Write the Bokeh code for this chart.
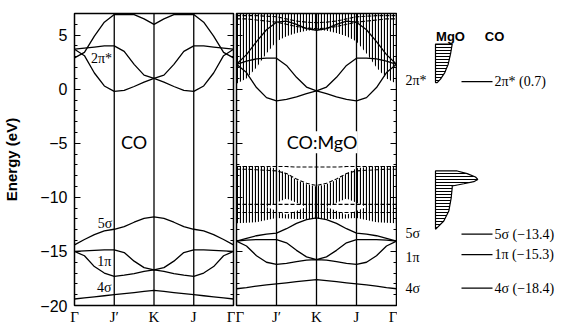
from bokeh.plotting import figure
from bokeh.layouts import row
from bokeh.models import Range1d, FixedTicker, LinearAxis, Span, Label
from bokeh.embed import file_html
from bokeh.resources import INLINE

# ---------------- data ----------------
k_path = [0.0, 0.25, 0.5, 0.75, 1.0, 1.25, 1.5, 1.75, 2.0,
          2.25, 2.5, 2.75, 3.0, 3.25, 3.5, 3.75, 4.0]
k_ticks = [0, 1, 2, 3, 4]
k_tick_labels = ["Γ", "J′", "K", "J", "Γ"]
e_ticks = [-20, -15, -10, -5, 0, 5]
e_tick_labels = ["−20", "−15", "−10", "−5", "0", "5"]
e_minor_ticks = list(range(-20, 8))

# CO monolayer bands (left panel)
co_2pi_1 = [2.9, 3.4, 4.9, 6.2, 6.9, 6.9, 6.9, 6.5, 6.0, 6.5, 6.9, 6.9, 6.9, 6.2, 4.9, 3.4, 2.9]
co_2pi_2 = [3.7, 3.8, 3.9, 4.0, 4.0, 3.5, 2.3, 1.3, 1.0, 1.3, 2.3, 3.5, 4.0, 4.0, 3.9, 3.8, 3.7]
co_2pi_3 = [3.7, 3.1, 1.5, 0.3, -0.2, -0.1, 0.25, 0.65, 1.0, 0.65, 0.25, -0.1, -0.2, 0.3, 1.5, 3.1, 3.7]
co_5s = [-14.4, -13.9, -13.45, -13.1, -12.95, -12.7, -12.3, -11.95, -11.8,
         -11.95, -12.3, -12.7, -12.95, -13.1, -13.45, -13.9, -14.4]
co_1pi_1 = [-15.0, -14.95, -14.9, -14.85, -14.85, -15.1, -15.9, -16.5, -16.7,
            -16.5, -15.9, -15.1, -14.85, -14.85, -14.9, -14.95, -15.0]
co_1pi_2 = [-15.0, -15.4, -16.4, -17.0, -17.3, -17.2, -17.05, -16.85, -16.7,
            -16.85, -17.05, -17.2, -17.3, -17.0, -16.4, -15.4, -15.0]
co_4s = [-19.4, -19.3, -19.2, -19.1, -19.0, -18.9, -18.8, -18.7, -18.6,
         -18.7, -18.8, -18.9, -19.0, -19.1, -19.2, -19.3, -19.4]

# CO:MgO bands (right panel)
cm_2pi_1 = [2.3, 3.2, 4.4, 5.5, 6.2, 6.3, 6.0, 5.6, 5.45, 5.6, 6.0, 6.3, 6.2, 5.5, 4.4, 3.2, 2.3]
cm_2pi_2 = [2.3, 2.6, 2.8, 2.87, 2.87, 2.2, 1.1, 0.2, -0.16, 0.2, 1.1, 2.2, 2.87, 2.87, 2.8, 2.6, 2.3]
cm_2pi_3 = [2.3, 1.54, 0.15, -0.78, -1.08, -0.95, -0.7, -0.4, -0.16,
            -0.4, -0.7, -0.95, -1.08, -0.78, 0.15, 1.54, 2.3]
cm_5s = [-14.05, -13.8, -13.55, -13.4, -13.3, -12.9, -12.4, -12.05, -11.9,
         -12.05, -12.4, -12.9, -13.3, -13.4, -13.55, -13.8, -14.05]
cm_1pi_1 = [-14.05, -13.95, -13.9, -13.9, -13.9, -14.2, -14.9, -15.5, -15.75,
            -15.5, -14.9, -14.2, -13.9, -13.9, -13.9, -13.95, -14.05]
cm_1pi_2 = [-14.05, -14.5, -15.4, -16.0, -16.2, -16.1, -15.95, -15.8, -15.75,
            -15.8, -15.95, -16.1, -16.2, -16.0, -15.4, -14.5, -14.05]
cm_4s = [-18.45, -18.35, -18.2, -18.1, -18.0, -17.9, -17.8, -17.7, -17.6,
         -17.7, -17.8, -17.9, -18.0, -18.1, -18.2, -18.35, -18.45]

# MgO band regions (hatched) in the right panel
mgo_cb_low = [0.5, 1.0, 2.0, 3.3, 4.4, 4.9, 5.2, 5.4, 5.5, 5.4, 5.2, 4.9, 4.4, 3.3, 2.0, 1.0, 0.5]
mgo_cb_high = [7.0, 7.0, 7.0, 7.0, 7.0, 7.0, 7.0, 7.0, 7.0, 7.0, 7.0, 7.0, 7.0, 7.0, 7.0, 7.0, 7.0]
mgo_vb_high = [-7.1, -7.1, -7.1, -7.2, -7.3, -7.8, -8.4, -8.8, -9.0,
               -8.8, -8.4, -7.8, -7.3, -7.2, -7.1, -7.1, -7.1]
mgo_vb_low = [-12.4, -12.35, -12.3, -12.1, -11.9, -11.95, -12.0, -12.0, -12.0,
              -12.0, -12.0, -11.95, -11.9, -12.1, -12.3, -12.35, -12.4]
# MgO bands drawn dashed
mgo_cb_d1 = [6.5, 6.5, 6.4, 6.3, 6.2, 6.0, 5.8, 5.65, 5.6, 5.65, 5.8, 6.0, 6.2, 6.3, 6.4, 6.5, 6.5]
mgo_cb_d2 = [6.8, 6.8, 6.8, 6.75, 6.7, 6.5, 6.3, 6.2, 6.15, 6.2, 6.3, 6.5, 6.7, 6.75, 6.8, 6.8, 6.8]
mgo_vb_d1 = [-7.15, -7.15, -7.15, -7.15, -7.15, -7.15, -7.2, -7.2, -7.2,
             -7.2, -7.2, -7.15, -7.15, -7.15, -7.15, -7.15, -7.15]
mgo_vb_d2 = [-7.4, -7.4, -7.45, -7.5, -7.55, -7.8, -8.3, -8.7, -8.9,
             -8.7, -8.3, -7.8, -7.55, -7.5, -7.45, -7.4, -7.4]
mgo_vb_d3 = [-10.65, -10.65, -10.65, -10.65, -10.65, -10.65, -10.65, -10.65, -10.65,
             -10.65, -10.65, -10.65, -10.65, -10.65, -10.65, -10.65, -10.65]
mgo_vb_d4 = [-11.4, -11.4, -11.4, -11.4, -11.4, -11.4, -11.4, -11.4, -11.4,
             -11.4, -11.4, -11.4, -11.4, -11.4, -11.4, -11.4, -11.4]
# gaps (unhatched pockets) inside the MgO valence region
gap1_k = [0.75, 1.25, 1.75]
gap2_k = [2.25, 2.75, 3.25]
gap_low = [-10.9, -11.6, -10.9]
gap_high = [-10.9, -10.1, -10.9]

# MgO density of states (right diagram): energy, width
dos_cb_e = [0.61, 0.93, 1.54, 2.31, 3.24, 4.17]
dos_cb_w = [1.7, 5.0, 9.3, 12.7, 15.0, 16.7]
dos_vb_e = [-12.96, -12.19, -11.27, -10.04, -9.11, -8.95, -8.74, -8.55, -8.34, -8.12, -7.81, -7.56]
dos_vb_w = [0.0, 8.3, 13.3, 15.7, 16.7, 16.7, 28.3, 38.3, 42.3, 40.0, 31.7, 21.7]

# free CO molecular levels
co_level_names = ["2π*", "5σ", "1π", "4σ"]
co_level_values = [0.7, -13.4, -15.3, -18.4]
mgo_side_label_e = [0.85, -13.3, -15.6, -18.4]

SANS = "Liberation Sans"
SERIF = "Liberation Serif"
TITLE = "Lato"

H = 327
TOP = 13
BOTTOM = 22


def make_panel(width, left_b, right_b, labelled):
    p = figure(width=width, height=H, x_range=Range1d(0, 4), y_range=Range1d(-20, 7),
               output_backend="svg", toolbar_location=None,
               min_border_left=left_b, min_border_right=right_b,
               min_border_top=TOP, min_border_bottom=BOTTOM)
    p.grid.visible = False
    p.outline_line_color = "black"
    p.outline_line_width = 1.5
    p.background_fill_color = "white"
    p.border_fill_color = "white"
    xa = p.xaxis[0]
    xa.ticker = FixedTicker(ticks=k_ticks)
    xa.major_label_overrides = {t: l for t, l in zip(k_ticks, k_tick_labels)}
    xa.major_tick_in = 0
    xa.major_tick_out = 0
    xa.minor_tick_in = 0
    xa.minor_tick_out = 0
    xa.axis_line_color = None
    xa.major_label_standoff = 3
    xa.major_label_text_font = SERIF
    xa.major_label_text_font_size = "15px"
    xa.major_label_text_color = "black"
    ya = p.yaxis[0]
    ya.ticker = FixedTicker(ticks=e_ticks, minor_ticks=e_minor_ticks)
    ya.major_tick_in = 6
    ya.major_tick_out = 0
    ya.minor_tick_in = 3
    ya.minor_tick_out = 0
    ya.axis_line_color = None
    if labelled:
        ya.major_label_overrides = {t: l for t, l in zip(e_ticks, e_tick_labels)}
        ya.major_label_standoff = 7
        ya.major_label_text_font = SANS
        ya.major_label_text_font_size = "16px"
        ya.major_label_text_color = "black"
        ya.axis_label = "Energy (eV)"
        ya.axis_label_text_font = SANS
        ya.axis_label_text_font_size = "15px"
        ya.axis_label_text_font_style = "bold"
        ya.axis_label_standoff = 17
        ya.axis_label_text_color = "black"
    else:
        ya.major_label_overrides = {t: "" for t in e_ticks}
        ya.major_label_standoff = 0
    ra = LinearAxis(ticker=FixedTicker(ticks=e_ticks, minor_ticks=e_minor_ticks),
                    major_tick_in=6, major_tick_out=0, minor_tick_in=3, minor_tick_out=0,
                    axis_line_color=None, major_label_standoff=0,
                    major_label_overrides={t: "" for t in e_ticks})
    p.add_layout(ra, "right")
    for kt in k_ticks[1:-1]:
        p.add_layout(Span(location=kt, dimension="height", line_color="black", line_width=1.3))
    return p


# ---------------- left panel: CO ----------------
p1 = make_panel(235, 74, 2, True)
for band in [co_2pi_1, co_2pi_2, co_2pi_3, co_5s, co_1pi_1, co_1pi_2, co_4s]:
    p1.line(k_path, band, line_color="black", line_width=1.3)
for txt, kx, ey in [("2π*", 0.68, 2.8), ("5σ", 0.77, -12.4), ("1π", 0.75, -15.9), ("4σ", 0.75, -18.3)]:
    p1.add_layout(Label(x=kx, y=ey, text=txt, text_align="center", text_baseline="middle",
                        text_font=SERIF, text_font_size="14px", text_color="black"))
p1.add_layout(Label(x=1.5, y=-4.9, text="CO", text_align="center", text_baseline="middle",
                    text_font=TITLE, text_font_size="18px", text_color="black"))

# ---------------- right panel: CO:MgO ----------------
p2 = make_panel(162, 1, 1, False)
p2.varea(x=k_path, y1=mgo_cb_low, y2=mgo_cb_high, fill_color=None,
         hatch_pattern="vertical_line", hatch_scale=3, hatch_weight=1.2, hatch_color="black")
p2.varea(x=k_path, y1=mgo_vb_low, y2=mgo_vb_high, fill_color=None,
         hatch_pattern="vertical_line", hatch_scale=3, hatch_weight=1.2, hatch_color="black")
p2.varea(x=gap1_k, y1=gap_low, y2=gap_high, fill_color="white")
p2.varea(x=gap2_k, y1=gap_low, y2=gap_high, fill_color="white")
for band in [mgo_cb_d1, mgo_cb_d2, mgo_vb_d1, mgo_vb_d2, mgo_vb_d3, mgo_vb_d4]:
    p2.line(k_path, band, line_color="black", line_width=1.1, line_dash="4 2")
for band in [cm_2pi_1, cm_2pi_2, cm_2pi_3, cm_5s, cm_1pi_1, cm_1pi_2, cm_4s]:
    p2.line(k_path, band, line_color="black", line_width=1.3)
p2.add_layout(Label(x=2.14, y=-4.9, text="CO:MgO", text_align="center", text_baseline="middle",
                    text_font=TITLE, text_font_size="18px", text_color="black",
                    background_fill_color="white"))

# ---------------- level diagram ----------------
p3 = figure(width=165, height=H, x_range=Range1d(0, 165), y_range=Range1d(-20, 7),
            output_backend="svg", toolbar_location=None,
            x_axis_location=None, y_axis_location=None,
            min_border_left=0, min_border_right=0,
            min_border_top=TOP, min_border_bottom=BOTTOM)
p3.grid.visible = False
p3.outline_line_color = None

DOS_X0 = 38
cb_x = [DOS_X0] + [DOS_X0 + w for w in dos_cb_w] + [DOS_X0]
cb_y = [dos_cb_e[0]] + dos_cb_e + [dos_cb_e[-1]]
vb_x = [DOS_X0] + [DOS_X0 + w for w in dos_vb_w] + [DOS_X0]
vb_y = [dos_vb_e[0]] + dos_vb_e + [dos_vb_e[-1]]
for xs, ys in [(cb_x, cb_y), (vb_x, vb_y)]:
    p3.patch(xs, ys, fill_color=None, line_color="black", line_width=1.2,
             hatch_pattern="horizontal_line", hatch_scale=3, hatch_weight=1, hatch_color="black")

p3.segment(x0=[64] * len(co_level_values), y0=co_level_values,
           x1=[95] * len(co_level_values), y1=co_level_values,
           line_color="black", line_width=1.2)
for name, val in zip(co_level_names, co_level_values):
    p3.add_layout(Label(x=97, y=val, text=f"{name} ({val})".replace("-", "−"),
                        text_align="left", text_baseline="middle",
                        text_font=SERIF, text_font_size="14px", text_color="black"))
for name, ey in zip(co_level_names, mgo_side_label_e):
    p3.add_layout(Label(x=8, y=ey, text=name, text_align="left", text_baseline="middle",
                        text_font=SERIF, text_font_size="14px", text_color="black"))
p3.add_layout(Label(x=53, y=4.84, text="MgO", text_align="center", text_baseline="middle",
                    text_font=SANS, text_font_size="13px", text_font_style="bold",
                    text_color="black"))
p3.add_layout(Label(x=97, y=4.84, text="CO", text_align="center", text_baseline="middle",
                    text_font=SANS, text_font_size="13px", text_font_style="bold",
                    text_color="black"))

layout = row(p1, p2, p3)
open("out.html", "w").write(file_html(layout, INLINE))
